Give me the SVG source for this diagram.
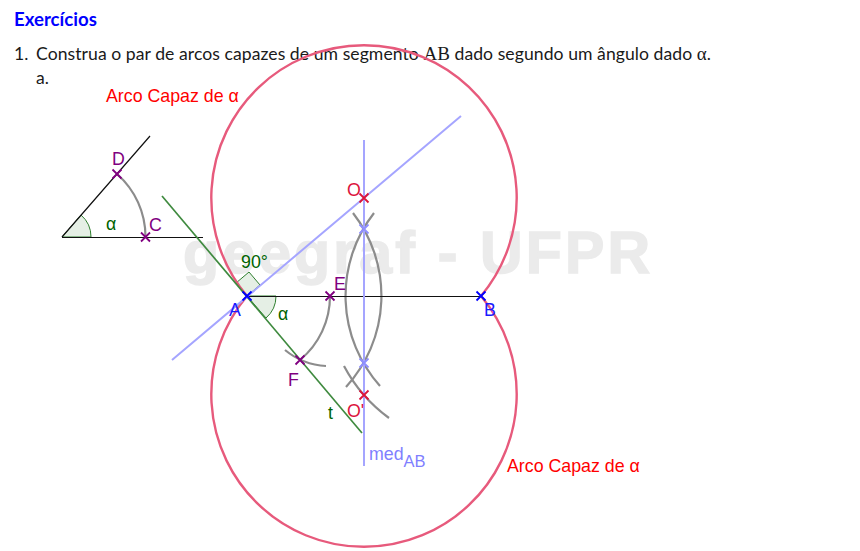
<svg xmlns="http://www.w3.org/2000/svg" width="860" height="551" viewBox="0 0 860 551">
<style>
.doc{font-family:"Lato","Liberation Sans",sans-serif;font-size:17.6px;fill:#1a1a1a}
.lbl{font-family:"Liberation Sans",Arial,sans-serif;font-size:17.800px}
.red{fill:#ff0000}.pur{fill:#800080}.blu{fill:#1a1aff}.crim{fill:#dc143c}.grn{fill:#006400}.med{fill:#7f7fff}
.cap{fill:none;stroke:#e75a7c;stroke-width:2.400}
.comp{fill:none;stroke:#8c8c8c;stroke-width:2.200}
.blk{stroke:#111111;stroke-width:1.200;fill:none}
.gl{stroke:#3f8a3f;stroke-width:1.700;fill:none}
.bl{stroke:#a5a5ff;stroke-width:2;fill:none}
.ang{fill:#006400;fill-opacity:.1;stroke:#2f7f2f;stroke-width:1}
.x{fill:none;stroke-width:1.800}
</style>
<defs>
<path id="x" d="M-4.500-4.500L4.500 4.500M-4.500 4.500L4.500-4.500"/>
</defs>
<rect width="860" height="551" fill="#ffffff"/>
<text x="183" y="273" font-family="Liberation Sans,Arial,sans-serif" font-weight="700" font-size="59" fill="#ebebeb" stroke="#ebebeb" stroke-width="1.500" textLength="467" lengthAdjust="spacing">geegraf - UFPR</text>
<text x="14" y="26" font-family="Lato,Liberation Sans,sans-serif" font-weight="700" font-size="18.600" fill="#0000ff">Exercícios</text>
<text class="doc" x="14" y="60">1.</text>
<text class="doc" x="36" y="60" textLength="675" lengthAdjust="spacing">Construa o par de arcos capazes de um segmento <tspan font-family="Liberation Serif,serif" font-size="19">AB</tspan> dado segundo um ângulo dado <tspan font-family="Liberation Serif,serif" font-size="19">α</tspan>.</text>
<text class="doc" x="36" y="84">a.</text>
<g id="connectors">
<path class="ang" d="M62 237L91 237A29 29 0 0 0 81 215Z"/>
<path class="ang" d="M247 296L236 283L249 272L260 285Z"/>
<path class="ang" d="M247 296L276 296A29 29 0 0 1 266 318Z"/>
<path class="cap" d="M247 296A152.700 152.700 0 1 1 481 296"/>
<path class="cap" d="M247 296A152.700 152.700 0 1 0 481 296"/>
<path class="comp" d="M117 174A83.500 83.500 0 0 1 145.500 237"/>
<path class="comp" d="M330 296A83 83 0 0 1 300 360"/>
<path class="comp" d="M285 350A70 70 0 0 0 326 366"/>
<path class="comp" d="M353 213A135 135 0 0 1 346 387"/>
<path class="comp" d="M374 213A135 135 0 0 0 380 386"/>
<path class="comp" d="M344 366A153 153 0 0 0 389 418"/>
<path class="blk" d="M62 237L150 136M62 237.500H203M247 296.500H481"/>
<path class="gl" d="M162 196L362 433"/>
<path class="bl" d="M172 360L461 116M364 140V466"/>
</g>
<g id="arc-label-top"><text class="lbl red" x="106" y="102">Arco Capaz de α</text></g>
<g id="arc-label-bottom"><text class="lbl red" x="507" y="472">Arco Capaz de α</text></g>
<g id="angle-vertex"><text class="lbl grn" x="106" y="230">α</text></g>
<g id="angle-90"><text class="lbl grn" x="241" y="268">90°</text></g>
<g id="angle-a"><text class="lbl grn" x="278" y="320">α</text></g>
<g id="line-t"><text class="lbl grn" x="328" y="419">t</text></g>
<g id="point-D"><use href="#x" x="117" y="174" class="x" stroke="#800080"/><text class="lbl pur" x="112" y="165">D</text></g>
<g id="point-C"><use href="#x" x="145.500" y="237" class="x" stroke="#800080"/><text class="lbl pur" x="149" y="231">C</text></g>
<g id="point-E"><use href="#x" x="330" y="296" class="x" stroke="#800080"/><text class="lbl pur" x="334" y="290">E</text></g>
<g id="point-F"><use href="#x" x="300" y="360" class="x" stroke="#800080"/><text class="lbl pur" x="288" y="386">F</text></g>
<g id="point-A"><use href="#x" x="247" y="296" class="x" stroke="#0000ff"/><text class="lbl blu" x="229" y="316">A</text></g>
<g id="point-B"><use href="#x" x="481" y="296" class="x" stroke="#0000ff"/><text class="lbl blu" x="484" y="316">B</text></g>
<g id="point-O"><use href="#x" x="364" y="198" class="x" stroke="#dc143c"/><text class="lbl crim" x="347" y="196">O</text></g>
<g id="point-O2"><use href="#x" x="364" y="395" class="x" stroke="#dc143c"/><text class="lbl crim" x="347" y="417">O'</text></g>
<g id="point-M1"><use href="#x" x="364" y="229" class="x" stroke="#8f8fff"/></g>
<g id="point-M2"><use href="#x" x="364" y="363" class="x" stroke="#8f8fff"/></g>
<g id="label-med"><text class="lbl med" x="369" y="460">med<tspan dy="7" font-size="16.500">AB</tspan></text></g>
</svg>
